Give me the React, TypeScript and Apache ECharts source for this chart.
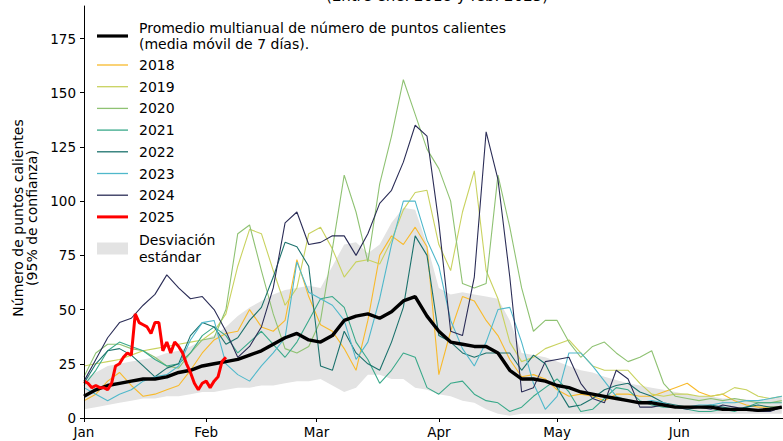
import React, { useEffect, useRef } from "react";
import * as echarts from "echarts";

const days = [0,3,6,9,12,15,18,21,24,27,30,33,36,39,42,45,48,51,54,57,60,63,66,69,72,75,78,81,84,87,90,93,96,99,102,105,108,111,114,117,120,123,126,129,132,135,138,141,144,147,150,153,156,159,162,165,168,171,174,177];

const avg = [10,13,15,16,17,18,18,19,21,22,24,25,26,27,29,31,34,37,39,36,35,38,45,47,48,46,49,54,56,47,40,35,34,33,33,30,22,18,18,17,15,14,12,11,10,9,8,7,7,6,5,5,5,5,4,4,4,3.5,4,5];
const bandLower = [4,5,6,7,8,9,9,10,10,11,12,12,13,14,14,15,15,16,17,17,18,15,12,14,20,20,18,18,14,13,11,10,8,7,4,2,1,2,2,2,2,2,2,2,2,2,2,2,2,2,2,2,2,2,2,2,2,2,2,2];
const bandUpper = [18,21,24,25,26,27,28,30,31,33,36,38,42,47,51,54,57,59,60,61,60,70,80,81,76,80,90,97,96,80,60,57,58,57,56,55,45,30,29,28,26,24,22,21,19,17.5,16,15,14,13,12,11,10,10,9,9,8.5,8,9,10];

const y2018 = [8,11,17,21,15,10,11,13,15,22,30,36,39,40,50,42,40,45,73,56,43,40,32,22,45,75,84,80,88,79,20,40,56,54,45,38,27,19,20,18,13,10,11,10,8,11,11,10,10,12,14,16,12,10,11,8,6,5,5,5];
const y2019 = [24,25,26,27,29,31,32,33,34,35,36,40,48,70,87,85,68,52,60,85,88,78,65,72,73,71,82,96,104,105,80,68,95,114,68,55,35,26,28,32,34,36,30,24,22,22,22,16,11,10,11,11,10,10,11,14,13,10,9,10];
const y2020 = [19,30,34,34,32,31,28,24,23,30,36,37,50,85,89,68,48,32,30,33,45,78,112,95,72,108,130,156,140,124,115,100,62,60,62,112,88,60,40,45,45,35,28,33,35,30,26,28,31,16,10,9,8,9,8,9,8,7,7,8];
const y2021 = [15,22,31,35,33,31,27,24,25,30,38,42,38,30,35,40,34,28,35,45,55,56,51,35,27,16,22,30,28,14,11,16,17,11,8,7,3,5,10,14,18,12,3,4,9,14,13,8,6,5,5,4,3,3,4,3,5,7,7,7];
const y2022 = [16,25,31,32,29,24,19,23,25,38,44,42,34,37,45,51,65,81,79,70,24,22,40,30,25,22,35,51,84,75,38,35,30,28,30,30,30,22,29,25,14,5,6,9,13,15,16,12,10,7,6,5,5,6,5,4,5,6,5,5];
const y2023 = [14,11,8,11,13,17,19,20,24,36,44,45,25,20,17,24,30,37,72,58,55,52,45,27,35,55,80,100,100,82,70,45,32,24,35,50,51,35,16,4,10,30,30,24,17,10,8,7,8,7,5,5,6,6,7,7,8,8,9,10];
const y2024 = [17,27,37,44,46,52,57,66,60,55,56,50,40,28,33,42,60,90,95,80,81,84,84,75,85,99,105,118,135,130,90,40,38,65,132,110,65,12,14,26,27,28,16,9,7,22,18,5,5,6,5,4,5,4,6,5,4,3,3,5];

const days2025 = [0,1,2,3,4,5,6,7,8,9,10,11,12,13,14,15,16,17,18,19,20,21,22,23,24,25,26,27,28,29,30,31,32,33,34,35,36];
const y2025 = [17,16,14,15,14,14,13,16,24,25,28,30,29,48,44,43,42,39,44,44,31,35,30,35,33,30,25,21,16,13,16,17,14,17,19,26,28];

const yearNames = ["2018","2019","2020","2021","2022","2023","2024"];
const yearValues = [y2018,y2019,y2020,y2021,y2022,y2023,y2024];
const yearColors = ["#f8ba2c","#c9d25f","#8fc273","#3aa98a","#1c726d","#4fb8cb","#2b2d57"];

const monthTicks = [0,31,59,90,120,151];
const monthLabels = ["Jan","Feb","Mar","Apr","May","Jun"];
const yTicks = [0,25,50,75,100,125,150,175];

const avgName = "Promedio multianual de número de puntos calientes\n(media móvil de 7 días).";
const bandName = "Desviación\nestándar";
const font = "DejaVu Sans";
const bandColor = "#e3e3e3";

export default function App() {
  const ref = useRef<HTMLDivElement>(null);
  useEffect(() => {
    const chart = echarts.init(ref.current!, null, { renderer: "svg" });
    const pairs = (xs: number[], vs: number[]) => xs.map((d, i) => [d, vs[i]]);

    const legendItems: { name: string; color: string; width: number; kind: "line" | "rect" }[] = [
      { name: avgName, color: "#000", width: 3.2, kind: "line" },
      ...yearNames.map((n, i) => ({ name: n, color: yearColors[i], width: 1.3, kind: "line" as const })),
      { name: "2025", color: "#ff0000", width: 3, kind: "line" },
      { name: bandName, color: bandColor, width: 0, kind: "rect" },
    ];
    const legendGraphics: any[] = [];
    legendItems.forEach((it, i) => {
      const cy = i === 0 ? 36 : i === legendItems.length - 1 ? 248.5 : 65 + 21.7 * (i - 1);
      if (it.kind === "line") {
        legendGraphics.push({
          type: "line", shape: { x1: 97, y1: cy, x2: 128, y2: cy },
          style: { stroke: it.color, lineWidth: it.width }, silent: true,
        });
      } else {
        legendGraphics.push({
          type: "rect", shape: { x: 97, y: cy - 6, width: 31, height: 12 },
          style: { fill: it.color }, silent: true,
        });
      }
      legendGraphics.push({
        type: "text", x: 139, y: cy,
        style: {
          text: it.name, fontSize: 14, lineHeight: 16.5, fontFamily: font, fill: "#000",
          align: "left", verticalAlign: "middle",
        },
        silent: true,
      });
    });

    const series: any[] = [
      {
        name: bandName, type: "custom", z: 1, silent: true, clip: true,
        data: [[0, 0]],
        renderItem: (params: any, api: any) => {
          if (params.dataIndex !== 0) return null;
          const top = days.map((d, i) => api.coord([d, bandUpper[i]]));
          const bottom = days.map((d, i) => api.coord([d, bandLower[i]])).reverse();
          return {
            type: "polygon",
            shape: { points: top.concat(bottom) },
            style: { fill: bandColor },
          };
        },
      },
      ...yearNames.map((n, i) => ({
        name: n, type: "line", data: pairs(days, yearValues[i]), symbol: "none",
        lineStyle: { width: 1.1, color: yearColors[i] }, itemStyle: { color: yearColors[i] }, z: 2,
      })),
      {
        name: avgName, type: "line", data: pairs(days, avg), symbol: "none",
        lineStyle: { width: 3.4, color: "#000" }, itemStyle: { color: "#000" }, z: 3,
      },
      {
        name: "2025", type: "line", data: pairs(days2025, y2025), symbol: "none",
        lineStyle: { width: 3, color: "#ff0000" }, itemStyle: { color: "#ff0000" }, z: 4,
      },
    ];
    chart.setOption({
      animation: false,
      backgroundColor: "#ffffff",
      grid: { left: 84, top: 6, right: 0, bottom: 23 },
      xAxis: {
        type: "value", min: 0, max: 177.3, z: 10,
        axisLine: { show: true, lineStyle: { color: "#000", width: 1 } },
        axisTick: { show: true, customValues: monthTicks, length: 4, lineStyle: { color: "#000" } },
        axisLabel: {
          customValues: monthTicks, margin: 7, fontSize: 13.5, fontFamily: font, color: "#000",
          formatter: (v: number) => monthLabels[monthTicks.indexOf(v)] ?? "",
        },
        splitLine: { show: false },
      },
      yAxis: {
        type: "value", min: 0, max: 190, z: 10,
        axisLine: { show: true, lineStyle: { color: "#000", width: 1 } },
        axisTick: { show: true, customValues: yTicks, length: 4, lineStyle: { color: "#000" } },
        axisLabel: { customValues: yTicks, margin: 8, fontSize: 13.5, fontFamily: font, color: "#000" },
        splitLine: { show: false },
      },
      graphic: [
        {
          type: "text", x: 25, y: 218, rotation: Math.PI / 2,
          style: {
            text: "Número de puntos calientes\n(95% de confianza)", fontSize: 14, lineHeight: 14,
            fontFamily: font, fill: "#000", align: "center", verticalAlign: "middle",
          },
        },
        {
          type: "text", x: 437, y: 3,
          style: {
            text: "(Entre ene. 2018 y feb. 2025)", fontSize: 15, fontFamily: font, fill: "#000",
            align: "center", verticalAlign: "bottom",
          },
        },
        ...legendGraphics,
      ],
      series,
    });
    return () => chart.dispose();
  }, []);
  return (
    <div
      ref={ref}
      style={{ position: "fixed", left: 0, top: 0, width: 783, height: 441, background: "#fff" }}
    />
  );
}
